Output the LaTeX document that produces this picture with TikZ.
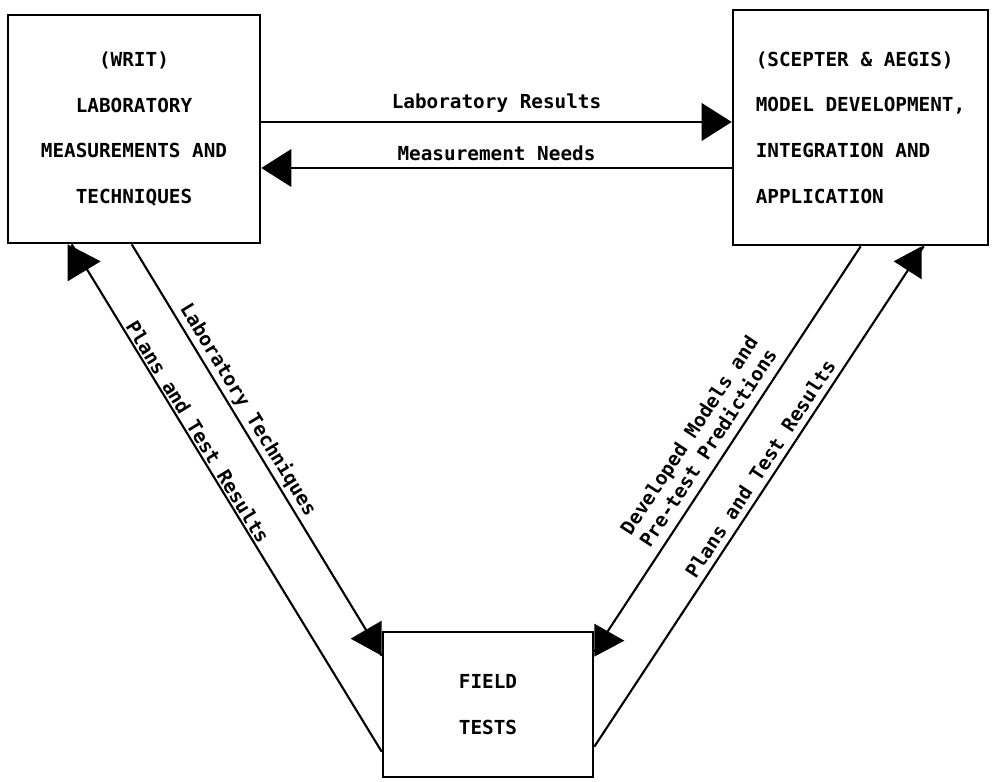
\documentclass[tikz,border=0pt]{standalone}
\usepackage{fontspec}
\setmonofont{DejaVu Sans Mono}
\usetikzlibrary{arrows.meta, calc}
\newcommand{\boxfont}{\fontsize{11}{26}\selectfont\ttfamily\bfseries}
\newcommand{\lblfont}{\fontsize{11}{13}\selectfont\ttfamily\bfseries}
\tikzset{
  box/.style={
    draw,
    line width=1.5pt,
    font=\boxfont,
    inner sep=0pt
  },
  link/.style={
    line width=1.2pt
  },
  flow/.style={
    link,
    -{Triangle[length=6mm,width=7.5mm]}
  },
  head/.style={
    fill=black
  },
  lbl/.style={
    font=\lblfont
  }
}

\begin{document}
\begin{tikzpicture}
  \useasboundingbox (0,0) rectangle (19.9,15.62);

  % the three boxes
  \node[box, minimum width=5.04cm, minimum height=4.56cm, align=center] (lab) at (2.68,13.04)
    {(WRIT)\\LABORATORY\\MEASUREMENTS AND\\TECHNIQUES};
  \node[box, minimum width=5.1cm, minimum height=4.7cm, align=left] (model) at (17.21,13.07)
    {(SCEPTER \& AEGIS)\\MODEL DEVELOPMENT,\\INTEGRATION AND\\APPLICATION};
  \node[box, minimum width=4.2cm, minimum height=2.9cm, align=center] (fld) at (9.76,1.53)
    {FIELD\\TESTS};

  % top exchange
  \draw[flow] (lab.east |- 0,13.18) -- node[lbl, above=1.5pt] {Laboratory Results} (model.west |- 0,13.18);
  \draw[flow] (model.west |- 0,12.26) -- node[lbl, above] {Measurement Needs} (lab.east |- 0,12.26);

  % ends of the slanted links
  \coordinate (lo) at ($(lab.south west)+(1.30,0)$);
  \coordinate (li) at ($(lab.south west)+(2.50,0)$);
  \coordinate (ri) at ($(model.south west)+(2.58,0)$);
  \coordinate (ro) at ($(model.south west)+(3.84,0)$);
  \coordinate (flo) at ($(fld.north west)+(0,-2.42)$);
  \coordinate (fli) at ($(fld.north west)+(0,-0.50)$);
  \coordinate (fri) at ($(fld.north east)+(0,-0.42)$);
  \coordinate (fro) at ($(fld.north east)+(0,-2.32)$);

  \draw[link] (flo) -- node[lbl, sloped, above=-2.5pt, pos=0.62] {Plans and Test Results} (lo);
  \draw[link] (li) -- node[lbl, sloped, above=-2pt, pos=0.42] {Laboratory Techniques} (fli);
  \draw[link] (ri) -- node[lbl, sloped, above=1.5pt, pos=0.52, align=center] {Developed Models and\\Pre-test Predictions} (fri);
  \draw[link] (fro) -- node[lbl, sloped, above, pos=0.54] {Plans and Test Results} (ro);

  % heads
  \fill[head] ($(lab.south west)+(1.22,0)$) -- ++(0.66,-0.34) -- ++(-0.66,-0.40) -- cycle;
  \fill[head] ($(model.south west)+(3.80,0)$) -- ++(-0.56,-0.30) -- ++(0.56,-0.36) -- cycle;
  \fill[head] ($(fld.north west)+(0,0.20)$) -- ++(-0.62,-0.36) -- ++(0.62,-0.34) -- cycle;
  \fill[head] ($(fld.north east)+(0,0.14)$) -- ++(0.60,-0.34) -- ++(-0.60,-0.32) -- cycle;
\end{tikzpicture}
\end{document}
